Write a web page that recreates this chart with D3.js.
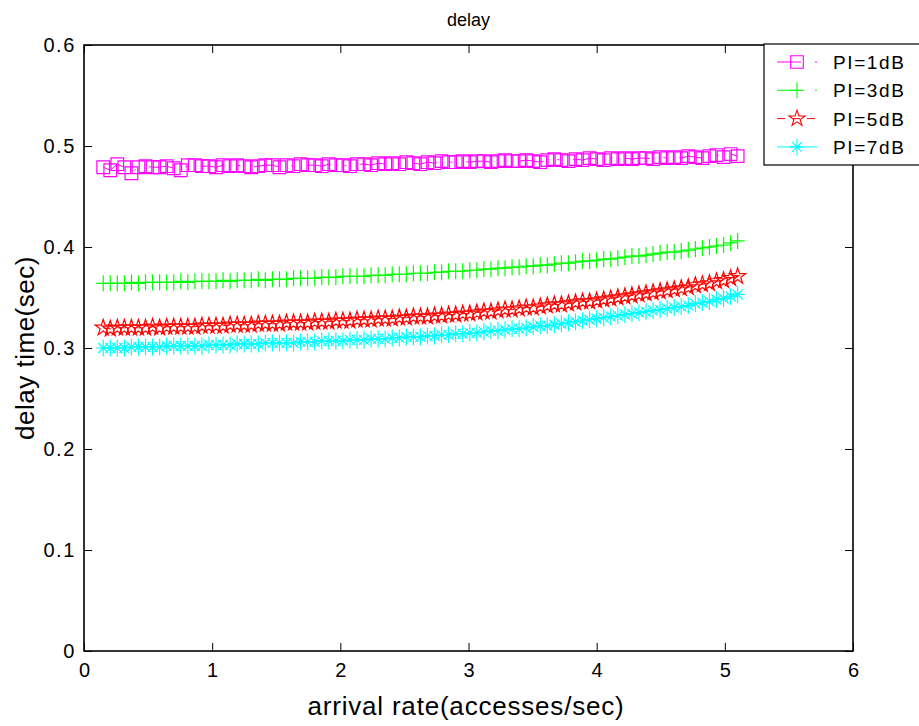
<!DOCTYPE html>
<html>
<head>
<meta charset="utf-8">
<script src="https://cdn.jsdelivr.net/npm/d3@7"></script>
<style>
  html, body { margin: 0; padding: 0; background: #fff; }
  svg { display: block; font-family: "Liberation Sans", Arial, Helvetica, sans-serif; }
</style>
</head>
<body>
<svg id="chart" width="919" height="726"></svg>
<script>
// arrival rate samples (accesses/sec)
const arrivalRate = [
  0.15, 0.205, 0.26, 0.315, 0.37, 0.425, 0.48, 0.535, 0.59, 0.645,
  0.7, 0.755, 0.81, 0.865, 0.92, 0.975, 1.03, 1.085, 1.14, 1.195,
  1.25, 1.305, 1.36, 1.415, 1.47, 1.525, 1.58, 1.635, 1.69, 1.745,
  1.8, 1.855, 1.91, 1.965, 2.02, 2.075, 2.13, 2.185, 2.24, 2.295,
  2.35, 2.405, 2.46, 2.515, 2.57, 2.625, 2.68, 2.735, 2.79, 2.845,
  2.9, 2.955, 3.01, 3.065, 3.12, 3.175, 3.23, 3.285, 3.34, 3.395,
  3.45, 3.505, 3.56, 3.615, 3.67, 3.725, 3.78, 3.835, 3.89, 3.945,
  4.0, 4.055, 4.11, 4.165, 4.22, 4.275, 4.33, 4.385, 4.44, 4.495,
  4.55, 4.605, 4.66, 4.715, 4.77, 4.825, 4.88, 4.935, 4.99, 5.045,
  5.1
];

// delay time (sec) for each PI level
const delayPI1 = [
  0.479, 0.476, 0.482, 0.479, 0.473, 0.479, 0.480, 0.479, 0.479, 0.480,
  0.478, 0.476, 0.481, 0.481, 0.480, 0.480, 0.479, 0.481, 0.480, 0.481,
  0.480, 0.479, 0.480, 0.481, 0.481, 0.479, 0.481, 0.480, 0.482, 0.481,
  0.481, 0.480, 0.482, 0.481, 0.481, 0.480, 0.482, 0.482, 0.481, 0.483,
  0.482, 0.483, 0.482, 0.484, 0.483, 0.482, 0.484, 0.483, 0.485, 0.484,
  0.484, 0.485, 0.484, 0.485, 0.485, 0.484, 0.485, 0.486, 0.485, 0.485,
  0.486, 0.485, 0.484, 0.486, 0.487, 0.486, 0.485, 0.487, 0.486, 0.488,
  0.487, 0.486, 0.488, 0.487, 0.488, 0.487, 0.488, 0.488, 0.487, 0.489,
  0.488, 0.489, 0.488, 0.490, 0.489, 0.488, 0.490, 0.491, 0.489, 0.492,
  0.490
];
const delayPI3 = [
  0.364, 0.364, 0.364, 0.364, 0.365, 0.364, 0.365, 0.365, 0.365, 0.365,
  0.365, 0.366, 0.365, 0.366, 0.366, 0.366, 0.366, 0.367, 0.366, 0.367,
  0.367, 0.367, 0.368, 0.367, 0.368, 0.368, 0.368, 0.369, 0.369, 0.369,
  0.369, 0.370, 0.370, 0.370, 0.371, 0.371, 0.371, 0.371, 0.372, 0.372,
  0.372, 0.373, 0.373, 0.373, 0.374, 0.374, 0.374, 0.375, 0.375, 0.376,
  0.376, 0.376, 0.377, 0.377, 0.378, 0.378, 0.379, 0.379, 0.380, 0.380,
  0.381, 0.381, 0.382, 0.382, 0.383, 0.384, 0.384, 0.385, 0.386, 0.386,
  0.387, 0.388, 0.388, 0.389, 0.390, 0.391, 0.391, 0.392, 0.393, 0.394,
  0.395, 0.395, 0.396, 0.397, 0.398, 0.399, 0.400, 0.401, 0.402, 0.404,
  0.406
];
const delayPI5 = [
  0.320, 0.319, 0.320, 0.320, 0.320, 0.320, 0.320, 0.321, 0.320, 0.321,
  0.321, 0.321, 0.321, 0.321, 0.322, 0.322, 0.322, 0.322, 0.323, 0.323,
  0.323, 0.323, 0.324, 0.324, 0.324, 0.324, 0.325, 0.325, 0.325, 0.325,
  0.326, 0.326, 0.326, 0.327, 0.327, 0.327, 0.328, 0.328, 0.328, 0.329,
  0.329, 0.329, 0.330, 0.330, 0.331, 0.331, 0.331, 0.332, 0.332, 0.333,
  0.333, 0.334, 0.334, 0.335, 0.336, 0.336, 0.337, 0.338, 0.338, 0.339,
  0.340, 0.340, 0.341, 0.342, 0.343, 0.343, 0.344, 0.345, 0.346, 0.346,
  0.347, 0.348, 0.349, 0.350, 0.351, 0.352, 0.353, 0.354, 0.355, 0.356,
  0.357, 0.358, 0.359, 0.360, 0.362, 0.363, 0.364, 0.366, 0.367, 0.369,
  0.371
];
const delayPI7 = [
  0.300, 0.300, 0.300, 0.300, 0.301, 0.301, 0.301, 0.301, 0.301, 0.302,
  0.302, 0.302, 0.302, 0.302, 0.302, 0.303, 0.303, 0.303, 0.303, 0.304,
  0.304, 0.304, 0.304, 0.305, 0.305, 0.305, 0.305, 0.305, 0.306, 0.306,
  0.306, 0.307, 0.307, 0.307, 0.307, 0.308, 0.308, 0.308, 0.309, 0.309,
  0.309, 0.310, 0.310, 0.311, 0.311, 0.311, 0.312, 0.312, 0.313, 0.313,
  0.314, 0.314, 0.315, 0.315, 0.316, 0.317, 0.317, 0.318, 0.319, 0.319,
  0.320, 0.321, 0.322, 0.322, 0.323, 0.324, 0.325, 0.326, 0.327, 0.328,
  0.329, 0.330, 0.331, 0.332, 0.333, 0.334, 0.335, 0.336, 0.337, 0.338,
  0.339, 0.340, 0.341, 0.342, 0.344, 0.345, 0.346, 0.348, 0.349, 0.351,
  0.353
];

const seriesNames = ["PI=1dB", "PI=3dB", "PI=5dB", "PI=7dB"];
const xTickValues = [0, 1, 2, 3, 4, 5, 6];
const yTickValues = [0, 0.1, 0.2, 0.3, 0.4, 0.5, 0.6];

const chartTitle = "delay";
const xTitle = "arrival rate(accesses/sec)";
const yTitle = "delay time(sec)";

// ---- styling per series ----
const styles = [
  { color: "#ff00ff", dash: "24 14 2 14", marker: "square" },
  { color: "#00ff00", dash: "24 14 2 14", marker: "plus" },
  { color: "#ff0000", dash: "8 7",        marker: "star" },
  { color: "#00ffff", dash: null,         marker: "asterisk" }
];
const seriesValues = [delayPI1, delayPI3, delayPI5, delayPI7];

const svg = d3.select("#chart");
const plot = { left: 84, right: 853, top: 45, bottom: 651 };

const x = d3.scaleLinear().domain([0, 6]).range([plot.left, plot.right]);
const y = d3.scaleLinear().domain([0, 0.6]).range([plot.bottom, plot.top]);

const tickFont = 20;
const tickLen = 8;

function styleAxis(g, showLabels) {
  g.select(".domain").remove();
  g.selectAll(".tick line").attr("stroke", "#000").attr("stroke-width", 1);
  g.selectAll(".tick text")
    .attr("fill", "#000")
    .style("font-size", tickFont + "px")
    .style("letter-spacing", "1.6px")
    .style("display", showLabels ? null : "none");
}

// bottom axis with inward ticks
svg.append("g")
  .attr("transform", `translate(0,${plot.bottom})`)
  .call(d3.axisBottom(x).tickValues(xTickValues).tickFormat(d3.format("d"))
    .tickSizeInner(-tickLen).tickSizeOuter(0).tickPadding(12))
  .call(g => styleAxis(g, true))
  .call(g => g.selectAll(".tick text").attr("dx", "0.8px"));

// top axis ticks only
svg.append("g")
  .attr("transform", `translate(0,${plot.top})`)
  .call(d3.axisTop(x).tickValues(xTickValues).tickSizeInner(-tickLen).tickSizeOuter(0))
  .call(g => styleAxis(g, false));

// left axis
svg.append("g")
  .attr("transform", `translate(${plot.left},0)`)
  .call(d3.axisLeft(y).tickValues(yTickValues).tickFormat(d => d === 0 ? "0" : d3.format(".1f")(d))
    .tickSizeInner(-tickLen).tickSizeOuter(0).tickPadding(8))
  .call(g => styleAxis(g, true));

// right axis ticks only
svg.append("g")
  .attr("transform", `translate(${plot.right},0)`)
  .call(d3.axisRight(y).tickValues(yTickValues).tickSizeInner(-tickLen).tickSizeOuter(0))
  .call(g => styleAxis(g, false));

// frame
svg.append("rect")
  .attr("x", plot.left).attr("y", plot.top)
  .attr("width", plot.right - plot.left).attr("height", plot.bottom - plot.top)
  .attr("fill", "none").attr("stroke", "#000").attr("stroke-width", 1.6);

// marker paths
function markerPath(kind) {
  switch (kind) {
    case "square": return d3.symbol(d3.symbolSquare, 160)();
    case "star": return d3.symbol(d3.symbolStar, 80)();
    case "plus": return "M-7,0H7M0,-8V8";
    case "asterisk": return "M-7,0H7M0,-8.5V8.5M-5,-5L5,5M-5,5L5,-5";
  }
}

const line = d3.line().x(d => x(d[0])).y(d => y(d[1]));

const dataGroup = svg.append("g");
seriesValues.forEach((vals, si) => {
  const st = styles[si];
  const pts = arrivalRate.map((r, i) => [r, vals[i]]);
  const g = dataGroup.append("g");
  g.append("path")
    .attr("d", line(pts))
    .attr("fill", "none")
    .attr("stroke", st.color)
    .attr("stroke-width", 1)
    .attr("stroke-dasharray", st.dash);
  g.selectAll("path.mk")
    .data(pts)
    .join("path")
    .attr("class", "mk")
    .attr("transform", d => `translate(${x(d[0])},${y(d[1])})`)
    .attr("d", markerPath(st.marker))
    .attr("fill", "none")
    .attr("stroke", st.color)
    .attr("stroke-width", 1.2);
});

// title and axis titles
svg.append("text")
  .attr("x", (plot.left + plot.right) / 2).attr("y", 26)
  .attr("text-anchor", "middle").style("font-size", "18px").attr("fill", "#000")
  .text(chartTitle);

svg.append("text")
  .attr("x", 466).attr("y", 715)
  .attr("text-anchor", "middle").style("font-size", "26px")
  .style("letter-spacing", "0.8px").attr("fill", "#000")
  .text(xTitle);

svg.append("text")
  .attr("transform", `translate(34,${(plot.top + plot.bottom) / 2}) rotate(-90)`)
  .attr("text-anchor", "middle").style("font-size", "26px")
  .style("letter-spacing", "0.5px").attr("fill", "#000")
  .text(yTitle);

// legend
const legend = svg.append("g");
legend.append("rect")
  .attr("x", 764).attr("y", 44).attr("width", 170).attr("height", 121)
  .attr("fill", "#fff").attr("stroke", "#000").attr("stroke-width", 1.2);

seriesNames.forEach((name, i) => {
  const st = styles[i];
  const cy = 62 + i * 28.3;
  const row = legend.append("g");
  row.append("line")
    .attr("x1", 777).attr("x2", 817).attr("y1", cy).attr("y2", cy)
    .attr("stroke", st.color).attr("stroke-width", 1)
    .attr("stroke-dasharray", st.dash);
  row.append("path")
    .attr("transform", `translate(797,${cy})`)
    .attr("d", markerPath(st.marker))
    .attr("fill", "none").attr("stroke", st.color).attr("stroke-width", 1.1);
  row.append("text")
    .attr("x", 833).attr("y", cy + 7)
    .style("font-size", "19px").style("letter-spacing", "1.6px").attr("fill", "#000")
    .text(name);
});
</script>
</body>
</html>
